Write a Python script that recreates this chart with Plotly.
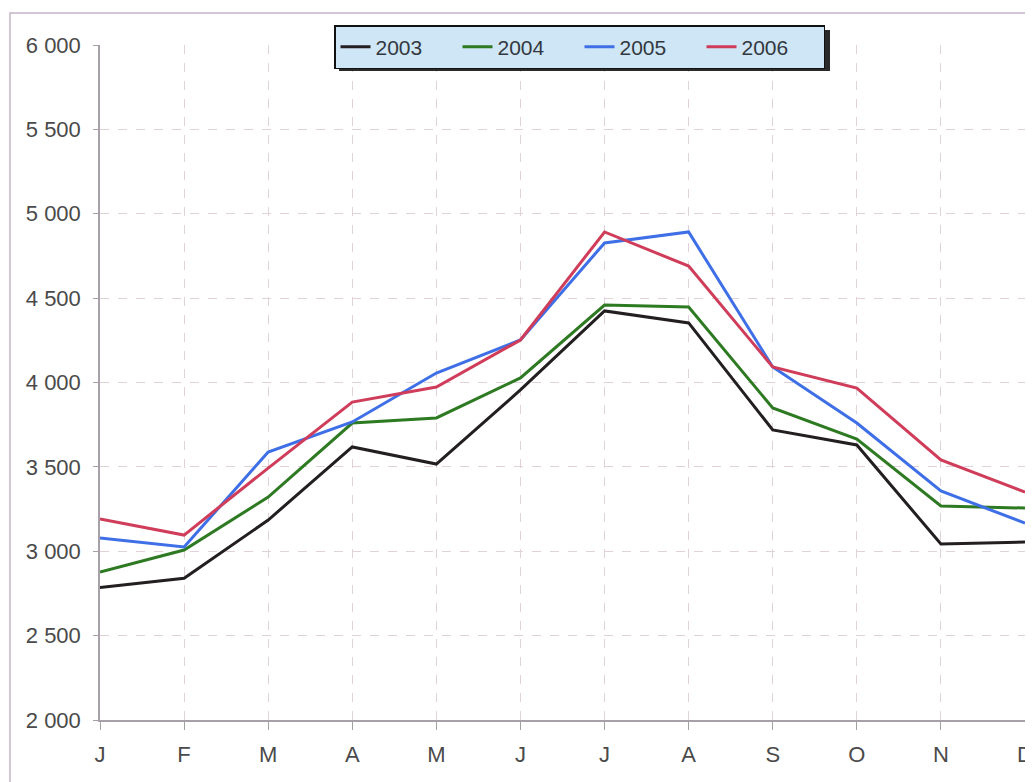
import plotly.graph_objects as go

months = ['J', 'F', 'M', 'A', 'M', 'J', 'J', 'A', 'S', 'O', 'N', 'D']

y2003 = [2785, 2840, 3185, 3618, 3517, 3956, 4424, 4353, 3719, 3630, 3043, 3055]
y2004 = [2877, 3007, 3321, 3760, 3790, 4027, 4459, 4447, 3849, 3665, 3268, 3256]
y2005 = [3079, 3025, 3588, 3766, 4056, 4252, 4827, 4892, 4092, 3760, 3357, 3167]
y2006 = [3191, 3096, 3493, 3884, 3973, 4252, 4892, 4690, 4092, 3967, 3541, 3351]

series = [
    ('2003', y2003, '#231f20'),
    ('2004', y2004, '#2e7a22'),
    ('2005', y2005, '#3f6fe6'),
    ('2006', y2006, '#cf3d5a'),
]

x = list(range(len(months)))

fig = go.Figure()
for name, vals, color in series:
    fig.add_trace(go.Scatter(x=x, y=vals, name=name, mode='lines',
                             line=dict(color=color, width=3)))

# the page has an 8px body margin, so the figure is a bit smaller than the window
W, H = 1025, 774
grid = '#e0d2d8'
axis_col = '#a8a0a8'
fig.update_layout(
    width=W, height=H,
    margin=dict(l=92, r=8, t=37, b=62, autoexpand=False),
    paper_bgcolor='white', plot_bgcolor='white',
    font=dict(family='Liberation Sans, Arial, sans-serif', size=22, color='#4a4a4a'),
    separators='. ',
    showlegend=True,
    legend=dict(orientation='h', xref='container', yref='container',
                x=571.5 / W, xanchor='center', y=1 - 17 / H, yanchor='top',
                bgcolor='#cfe6f6', bordercolor='#111111', borderwidth=1.5,
                font=dict(size=21, color='#333840'),
                entrywidth=77, entrywidthmode='pixels', itemwidth=30,
                tracegroupgap=0),
    xaxis=dict(range=[0, 11], tickvals=x, ticktext=months, automargin=False,
               showgrid=True, gridcolor=grid, griddash='dash', gridwidth=1,
               showline=True, linecolor=axis_col, linewidth=1.5,
               ticks='outside', ticklen=8, tickcolor=axis_col,
               zeroline=False, ticklabelstandoff=6),
    yaxis=dict(range=[2000, 6000], dtick=500, tickformat=',d', automargin=False,
               showgrid=True, gridcolor=grid, griddash='dash', gridwidth=1,
               showline=True, linecolor=axis_col, linewidth=1.5,
               ticks='outside', ticklen=5, tickcolor=axis_col,
               zeroline=False, ticklabelstandoff=8),
)

# outer chart frame and legend drop shadow
fig.add_shape(type='rect', xref='paper', yref='paper',
              x0=-0.0973, x1=1.05, y0=-0.2, y1=1.0474,
              line=dict(color='#c4b4c8', width=1.5), layer='below')
fig.add_shape(type='rect', xref='paper', yref='paper',
              x0=0.2584, x1=0.7892, y0=0.9615, y1=1.0222,
              line=dict(width=0), fillcolor='#2a2a2a', layer='above')

fig.write_html("out.html")
